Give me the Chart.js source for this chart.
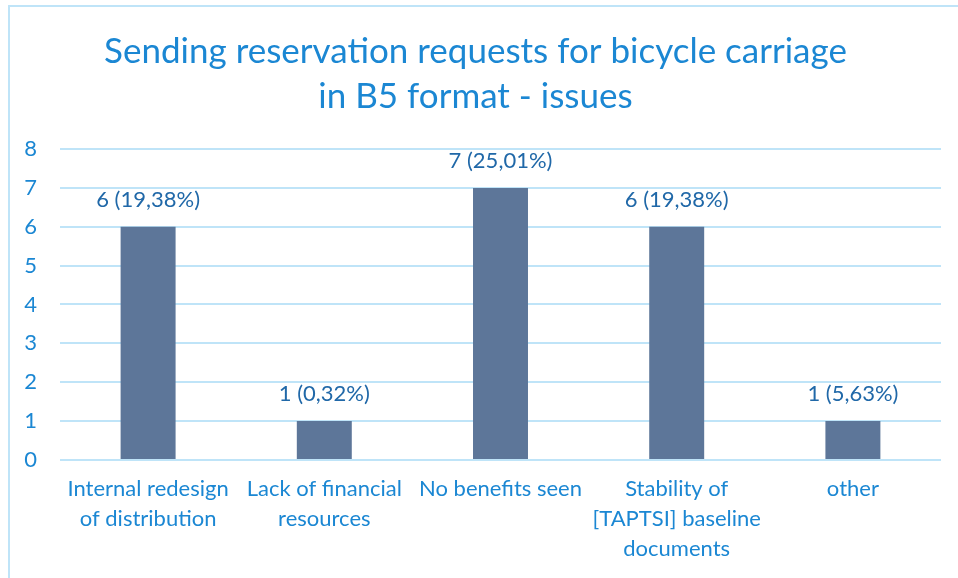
<!DOCTYPE html>
<html>
<head>
<meta charset="utf-8">
<script src="https://cdn.jsdelivr.net/npm/chart.js@4.4.1/dist/chart.umd.min.js"></script>
<style>
  html, body { margin: 0; padding: 0; background: #fff; }
  #wrap { position: relative; width: 958px; height: 578px; }
  #frame {
    position: absolute; left: 8px; top: 5px; right: 0; bottom: 0;
    border-left: 2px solid #bfe4f8; border-top: 2px solid #bfe4f8;
  }
  #chart { position: absolute; left: 0; top: 0; }
</style>
</head>
<body>
<div id="wrap">
  <div id="frame"></div>
  <canvas id="chart" width="958" height="578"></canvas>
</div>
<script>
/* ── data ── */
const categories = [
  ['Internal redesign', 'of distribution'],
  ['Lack of financial', 'resources'],
  'No benefits seen',
  ['Stability of', '[TAPTSI] baseline', 'documents'],
  'other',
];
const counts = [6, 1, 7, 6, 1];
const valueLabels = ['6 (19,38%)', '1 (0,32%)', '7 (25,01%)', '6 (19,38%)', '1 (5,63%)'];
const yTicks = [0, 1, 2, 3, 4, 5, 6, 7, 8];

/* ── colours ── */
const C = {
  blue:  '#1b87d3',
  label: '#2068a8',
  bar:   '#5d7699',
  grid:  '#bfe4f8',
};
const FONT = "Lato, 'Noto Sans', sans-serif";

/* labels over the bars */
const barLabels = {
  id: 'barLabels',
  afterDatasetsDraw(chart) {
    const ctx = chart.ctx;
    const meta = chart.getDatasetMeta(0);
    ctx.save();
    ctx.font = '22px ' + FONT;
    ctx.fillStyle = C.label;
    ctx.textAlign = 'center';
    ctx.textBaseline = 'middle';
    meta.data.forEach((bar, i) => {
      ctx.fillText(valueLabels[i], bar.x, bar.y - 27);
    });
    ctx.restore();
  },
};

new Chart(document.getElementById('chart').getContext('2d'), {
  type: 'bar',
  data: {
    labels: categories,
    datasets: [{
      data: counts,
      backgroundColor: C.bar,
      categoryPercentage: 1,
      barPercentage: 0.312,
    }],
  },
  options: {
    responsive: false,
    animation: false,
    layout: { padding: { left: 10, right: 17, top: 29, bottom: 0 } },
    plugins: {
      legend: { display: false },
      tooltip: { enabled: false },
      title: {
        display: true,
        text: ['Sending reservation requests for bicycle carriage', 'in B5 format - issues'],
        color: C.blue,
        font: { family: FONT, size: 35, weight: 'normal', lineHeight: 1.286 },
        padding: { top: 0, bottom: 30 },
      },
    },
    scales: {
      x: {
        grid: { display: false, drawTicks: false },
        border: { display: false },
        ticks: {
          color: C.blue,
          font: { family: FONT, size: 22, lineHeight: 1.364 },
          padding: 14,
          maxRotation: 0,
          autoSkip: false,
        },
      },
      y: {
        min: 0,
        max: 8,
        afterBuildTicks: s => { s.ticks = yTicks.map(v => ({ value: v })); },
        afterFit: s => { s.width = 50; },
        grid: { color: C.grid, lineWidth: 2, drawTicks: false },
        border: { display: false },
        ticks: {
          color: C.blue,
          font: { family: FONT, size: 22 },
          padding: 23,
        },
      },
    },
  },
  plugins: [barLabels],
});
</script>
</body>
</html>
